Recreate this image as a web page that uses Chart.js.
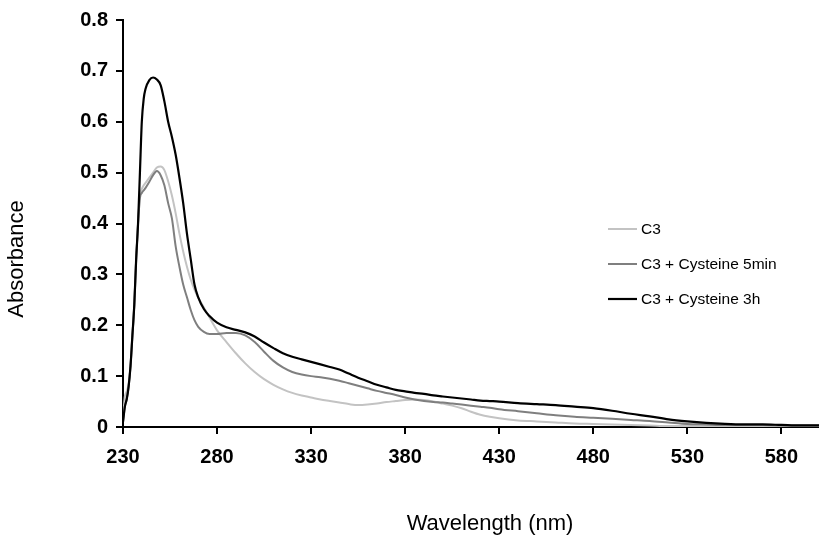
<!DOCTYPE html>
<html>
<head>
<meta charset="utf-8">
<script src="https://cdn.jsdelivr.net/npm/chart.js@4/dist/chart.umd.min.js"></script>
<style>
  html, body { margin: 0; padding: 0; background: #fff; }
  canvas { display: block; }
</style>
</head>
<body>
<canvas id="spectrum" width="819" height="537"></canvas>
<script>
// wavelength grid (nm)
var wavelength = [230, 231, 232, 233, 234, 235, 236, 237, 238, 239, 240, 241, 242, 244, 246, 248, 250, 252, 254, 256, 258, 260, 262, 264, 266, 268, 270, 273, 276, 280, 285, 290, 295, 300, 305, 310, 315, 320, 325, 330, 335, 340, 345, 350, 355, 360, 365, 370, 375, 380, 385, 390, 395, 400, 405, 410, 415, 420, 425, 430, 440, 450, 460, 470, 480, 490, 500, 510, 520, 530, 540, 550, 560, 570, 580, 590, 600];

var absC3 = [0.02, 0.06, 0.07, 0.085, 0.12, 0.18, 0.24, 0.33, 0.40, 0.455, 0.468, 0.475, 0.48, 0.49, 0.5, 0.51, 0.512, 0.505, 0.483, 0.455, 0.42, 0.38, 0.345, 0.315, 0.29, 0.27, 0.254, 0.235, 0.215, 0.19, 0.167, 0.145, 0.125, 0.108, 0.094, 0.083, 0.074, 0.067, 0.062, 0.058, 0.054, 0.051, 0.048, 0.045, 0.043, 0.044, 0.046, 0.049, 0.051, 0.053, 0.054, 0.053, 0.05, 0.046, 0.042, 0.037, 0.03, 0.024, 0.02, 0.017, 0.013, 0.011, 0.009, 0.007, 0.006, 0.005, 0.004, 0.003, 0.002, 0.002, 0.002, 0.001, 0.001, 0.001, 0.001, 0.001, 0.001];

var abs5min = [0.01, 0.04, 0.055, 0.08, 0.12, 0.18, 0.24, 0.33, 0.40, 0.45, 0.46, 0.465, 0.47, 0.482, 0.495, 0.503, 0.495, 0.475, 0.44, 0.41, 0.355, 0.315, 0.28, 0.255, 0.23, 0.21, 0.197, 0.187, 0.183, 0.183, 0.185, 0.185, 0.18, 0.167, 0.148, 0.13, 0.117, 0.108, 0.103, 0.1, 0.098, 0.095, 0.091, 0.086, 0.081, 0.076, 0.071, 0.067, 0.063, 0.058, 0.054, 0.051, 0.049, 0.048, 0.046, 0.044, 0.042, 0.04, 0.038, 0.035, 0.031, 0.027, 0.023, 0.02, 0.018, 0.016, 0.014, 0.012, 0.009, 0.006, 0.005, 0.004, 0.004, 0.004, 0.003, 0.003, 0.003];

var abs3h = [0.01, 0.04, 0.055, 0.08, 0.12, 0.18, 0.24, 0.33, 0.40, 0.50, 0.60, 0.645, 0.665, 0.682, 0.687, 0.683, 0.672, 0.64, 0.6, 0.57, 0.535, 0.49, 0.44, 0.38, 0.33, 0.28, 0.255, 0.232, 0.218, 0.205, 0.196, 0.191, 0.186, 0.178, 0.166, 0.155, 0.145, 0.138, 0.133, 0.128, 0.123, 0.118, 0.113, 0.105, 0.097, 0.09, 0.083, 0.078, 0.073, 0.07, 0.067, 0.065, 0.062, 0.06, 0.058, 0.056, 0.054, 0.052, 0.051, 0.05, 0.047, 0.045, 0.043, 0.04, 0.037, 0.032, 0.026, 0.021, 0.015, 0.011, 0.008, 0.006, 0.005, 0.005, 0.004, 0.003, 0.003];

var seriesLabels = ["C3", "C3 + Cysteine 5min", "C3 + Cysteine 3h"];
var xTicks = [230, 280, 330, 380, 430, 480, 530, 580];
var yTicks = [0, 0.1, 0.2, 0.3, 0.4, 0.5, 0.6, 0.7, 0.8];
var yTickLabels = ["0", "0.1", "0.2", "0.3", "0.4", "0.5", "0.6", "0.7", "0.8"];
var xTitle = "Wavelength (nm)";
var yTitle = "Absorbance";

function pairs(ys) {
    return wavelength.map(function (x, i) { return { x: x, y: ys[i] }; });
}

var fontFamily = "'Liberation Sans', Arial, sans-serif";

// legend inside the plot + axis titles (offset from the axis centres like the original)
var extras = {
    id: "extras",
    afterDraw: function (chart) {
        var c = chart.ctx;
        var area = chart.chartArea;
        var x0 = area.left + 485;
        var y0 = area.top + 209;
        c.save();
        c.font = "15.5px " + fontFamily;
        c.textBaseline = "middle";
        c.fillStyle = "#000";
        chart.data.datasets.forEach(function (ds, i) {
            var y = y0 + i * 35;
            c.strokeStyle = ds.borderColor;
            c.lineWidth = ds.borderWidth;
            c.beginPath();
            c.moveTo(x0, y);
            c.lineTo(x0 + 29, y);
            c.stroke();
            c.fillText(ds.label, x0 + 33, y + 1);
        });

        c.font = "22px " + fontFamily;
        c.textAlign = "center";
        c.fillText(xTitle, 490, 524);
        c.translate(17, 259);
        c.rotate(-Math.PI / 2);
        c.fillText(yTitle, 0, 0);
        c.restore();
    }
};

new Chart(document.getElementById("spectrum"), {
    type: "line",
    data: {
        datasets: [
            { label: seriesLabels[0], data: pairs(absC3), borderColor: "#c3c3c3", borderWidth: 2, order: 2 },
            { label: seriesLabels[1], data: pairs(abs5min), borderColor: "#7f7f7f", borderWidth: 2, order: 1 },
            { label: seriesLabels[2], data: pairs(abs3h), borderColor: "#000000", borderWidth: 2.2, order: 0 }
        ]
    },
    options: {
        responsive: false,
        devicePixelRatio: 1,
        animation: false,
        layout: { padding: { left: 0, right: 0, top: 19, bottom: 0 } },
        elements: {
            point: { radius: 0 },
            line: { cubicInterpolationMode: "monotone", fill: false }
        },
        plugins: {
            legend: { display: false },
            tooltip: { enabled: false }
        },
        scales: {
            x: {
                type: "linear",
                min: 230,
                max: 600,
                afterBuildTicks: function (scale) {
                    scale.ticks = xTicks.map(function (v) { return { value: v }; });
                },
                afterFit: function (scale) { scale.height = 110; },
                grid: { drawOnChartArea: false, drawTicks: true, tickLength: 7, color: "#000", lineWidth: 2 },
                border: { color: "#000", width: 2 },
                ticks: {
                    color: "#000",
                    padding: 11,
                    maxRotation: 0,
                    font: { family: fontFamily, size: 20, weight: "bold" }
                },
                title: { display: false }
            },
            y: {
                min: 0,
                max: 0.8,
                afterBuildTicks: function (scale) {
                    scale.ticks = yTicks.map(function (v) { return { value: v }; });
                },
                afterFit: function (scale) { scale.width = 123; },
                grid: { drawOnChartArea: false, drawTicks: true, tickLength: 7, color: "#000", lineWidth: 2 },
                border: { color: "#000", width: 2 },
                ticks: {
                    color: "#000",
                    padding: 8,
                    font: { family: fontFamily, size: 20, weight: "bold" },
                    callback: function (value, index) { return yTickLabels[index]; }
                },
                title: { display: false }
            }
        }
    },
    plugins: [extras]
});
</script>
</body>
</html>
